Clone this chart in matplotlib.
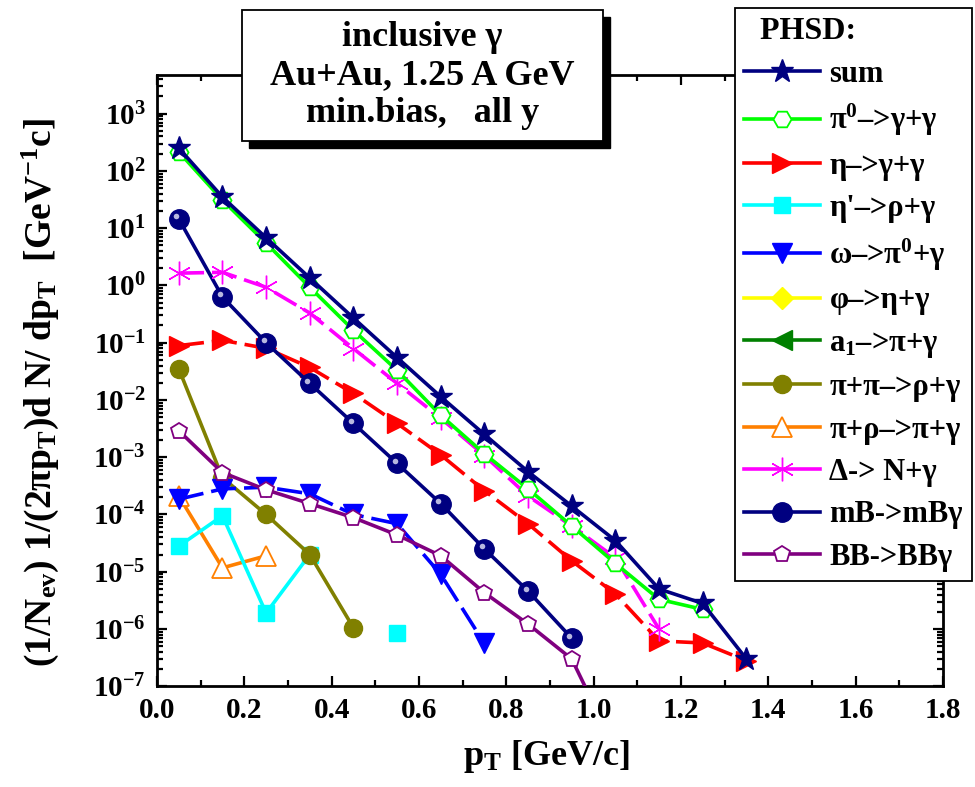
import numpy as np
import matplotlib
matplotlib.use('Agg')
import matplotlib.pyplot as plt
from matplotlib.lines import Line2D
from matplotlib.patches import Rectangle
from matplotlib.transforms import ScaledTranslation
from matplotlib.ticker import LogLocator, MultipleLocator, FormatStrFormatter, NullFormatter

plt.rcParams['font.family'] = ['Liberation Serif', 'DejaVu Serif']
plt.rcParams['font.weight'] = 'bold'
plt.rcParams['axes.labelweight'] = 'bold'
plt.rcParams['mathtext.fontset'] = 'custom'
plt.rcParams['mathtext.rm'] = 'Liberation Serif:bold'
plt.rcParams['mathtext.it'] = 'Liberation Serif:bold'
plt.rcParams['mathtext.bf'] = 'Liberation Serif:bold'
plt.rcParams['mathtext.default'] = 'regular'

# pT bin centres [GeV/c]
pt = [0.05, 0.15, 0.25, 0.35, 0.45, 0.55, 0.65, 0.75, 0.85, 0.95, 1.05, 1.15, 1.25, 1.35]

sum_y = [250, 35, 6.8, 1.35, 0.27, 0.055, 0.0114, 2.5e-3, 5.6e-4, 1.4e-4, 3.5e-5, 5.0e-6, 2.8e-6, 3.0e-7]
pi0_y = [215, 31, 5.5, 0.93, 0.165, 0.033, 5.4e-3, 1.15e-3, 2.8e-4, 6.3e-5, 1.4e-5, 3.3e-6, 2.2e-6]
eta_y = [0.089, 0.11, 0.08, 0.037, 0.013, 3.9e-3, 1.1e-3, 2.6e-4, 6.9e-5, 1.55e-5, 4.1e-6, 6.2e-7, 5.7e-7, 2.8e-7]
etap_y = [2.8e-5, 9.5e-5, 1.9e-6, 2.0e-5, np.nan, 8.5e-7]
omega_y = [1.85e-4, 2.8e-4, 3.0e-4, 2.3e-4, 1.0e-4, 6.9e-5, 9e-6, 5.6e-7]
phi_y = []
a1_y = []
pipi_y = [0.035, 4.4e-4, 1.0e-4, 2.0e-5, 1.05e-6]
pirho_y = [2.1e-4, 1.17e-5, 1.9e-5]
delta_y = [1.64, 1.7, 0.93, 0.33, 0.079, 0.0195, 4.8e-3, 1.07e-3, 2.1e-4, 6.3e-5, 1.75e-5, 1.0e-6]
mb_y = [14.5, 0.63, 0.10, 0.0195, 3.9e-3, 7.8e-4, 1.55e-4, 2.5e-5, 4.6e-6, 6.9e-7]
bb_y = [2.9e-3, 5.4e-4, 2.7e-4, 1.55e-4, 8.8e-5, 4.4e-5, 1.9e-5, 4.3e-6, 1.22e-6, 3.0e-7, 8e-9]

labels = ['sum', r'π$^{0}$–>γ+γ', 'η–>γ+γ', "η'–>ρ+γ", r'ω–>π$^{0}$+γ', 'φ–>η+γ',
          r'a$_{1}$–>π+γ', 'π+π–>ρ+γ', 'π+ρ–>π+γ', 'Δ-> N+γ', 'mB->mBγ', 'BB->BBγ']

# (y, color, marker, size, filled, dashed, zorder)
styles = [
    (sum_y, '#000080', '*', 17, True, False, 10),
    (pi0_y, '#00ff00', 'H', 13, False, False, 8),
    (eta_y, '#ff0000', '>', 14, True, True, 6),
    (etap_y, '#00ffff', 's', 11, True, False, 3),
    (omega_y, '#0000ff', 'v', 14, True, True, 5),
    (phi_y, '#ffff00', 'D', 11, True, False, 2),
    (a1_y, '#008000', '<', 14, True, False, 2),
    (pipi_y, '#808000', 'o', 13, True, False, 4),
    (pirho_y, '#ff8000', '^', 14, False, False, 2),
    (delta_y, '#ff00ff', (6, 2, 0), 17, True, True, 7),
    (mb_y, '#000080', 'o', 14, True, False, 6),
    (bb_y, '#800080', 'p', 12, False, False, 5),
]

fig = plt.figure(figsize=(9.75, 7.87), dpi=100)
ax = fig.add_axes([0.161, 0.128, 0.806, 0.777])

handles = []
for (y, c, m, ms, filled, dashed, z), lab in zip(styles, labels):
    x = pt[:len(y)]
    mfc = c if filled else 'white'
    ls = (0, (7, 2.2)) if dashed else '-'
    mew = 1.0 if filled else 1.3
    ax.plot(x, y, color=c, lw=2.6, ls=ls, marker=m, ms=ms, mfc=mfc, mec=c,
            mew=mew, zorder=z)
    handles.append(Line2D([], [], color=c, lw=2.6, marker=m, ms=ms, mfc=mfc, mec=c, mew=mew))

# highlight on mB spheres
hl = ax.transData + ScaledTranslation(-0.025, 0.025, fig.dpi_scale_trans)
ax.plot(pt[:len(mb_y)], mb_y, ls='none', marker='o', ms=4, color='#b8b8e0', mec='none',
        transform=hl, zorder=6.5)

ax.set_yscale('log')
ax.set_xlim(0, 1.8)
ax.set_ylim(1e-7, 10 ** 3.68)
ax.xaxis.set_major_locator(MultipleLocator(0.2))
ax.xaxis.set_minor_locator(MultipleLocator(0.1))
ax.xaxis.set_major_formatter(FormatStrFormatter('%.1f'))
ax.yaxis.set_major_locator(LogLocator(base=10, numticks=20))
ax.yaxis.set_minor_locator(LogLocator(base=10, subs=np.arange(2, 10), numticks=20))
ax.yaxis.set_minor_formatter(NullFormatter())
ax.tick_params(which='both', direction='in', top=True, right=True, width=1.6, labelsize=21)
ax.tick_params(which='major', length=7, pad=8)
ax.tick_params(which='minor', length=4)
for s in ax.spines.values():
    s.set_linewidth(2)

ax.set_xlabel(r'p$_{T}$ [GeV/c]', fontsize=26)
ax.xaxis.set_label_coords(0.495, -0.085)
ax.set_ylabel(r'(1/N$_{ev}$) 1/(2πp$_{T}$)d N/ dp$_{T}$  [GeV$^{-1}$c]', fontsize=27)
ax.yaxis.set_label_coords(-0.122, 0.48)

leg = ax.legend(handles, labels, title='  PHSD:', loc='upper right',
                bbox_to_anchor=(972 / 975, 1 - 8 / 787), bbox_transform=fig.transFigure,
                fontsize=22, title_fontsize=23, frameon=True, fancybox=False,
                edgecolor='black', framealpha=1, handlelength=2.5, handletextpad=0.3,
                labelspacing=0.44, borderpad=0.3, borderaxespad=0, alignment='left')
leg.get_frame().set_linewidth(1.3)
leg.set_zorder(20)

# info box with shadow
bx, by, bw, bh = 242 / 975, 1 - 141 / 787, 361 / 975, 131 / 787
fig.add_artist(Rectangle((bx + 7 / 975, by - 7 / 787), bw, bh, transform=fig.transFigure,
                         facecolor='black', edgecolor='black', zorder=5))
fig.add_artist(Rectangle((bx, by), bw, bh, transform=fig.transFigure,
                         facecolor='white', edgecolor='black', lw=1.3, zorder=6))
for i, t in enumerate(['inclusive γ', 'Au+Au, 1.25 A GeV', 'min.bias,   all y']):
    fig.text(bx + bw / 2, 1 - (38 + 38 * i) / 787, t, ha='center', va='center',
             fontsize=26, zorder=7)

fig.savefig('out.png', dpi=100)
